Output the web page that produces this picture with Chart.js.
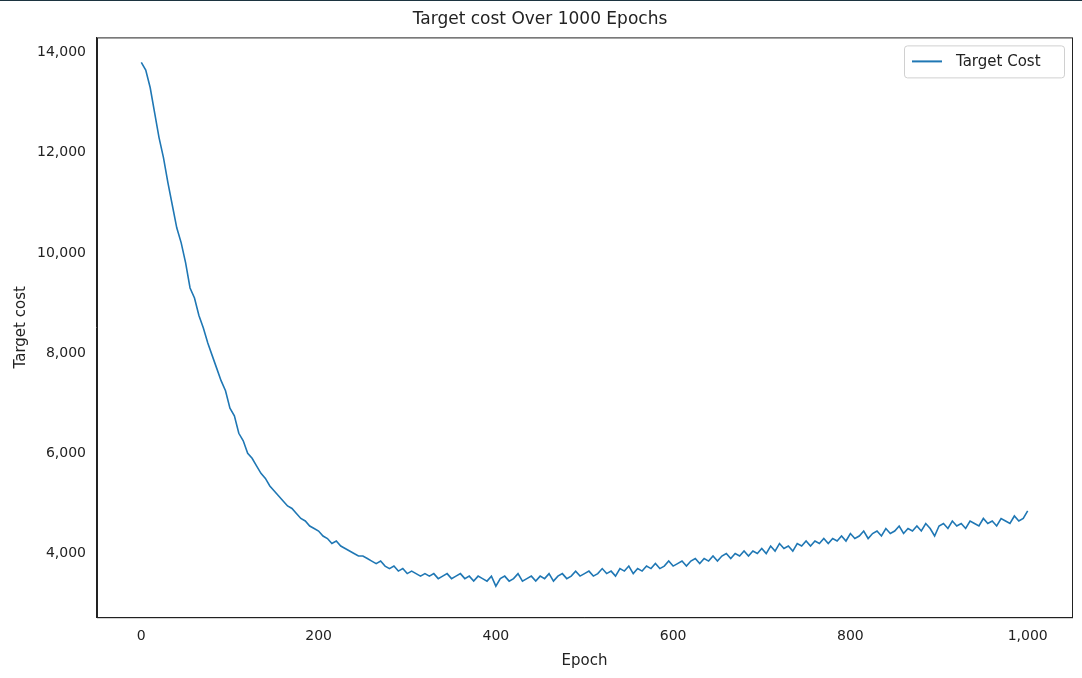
<!DOCTYPE html>
<html><head><meta charset="utf-8">
<script src="https://cdn.jsdelivr.net/npm/chart.js@4/dist/chart.umd.min.js"></script>
<style>html,body{margin:0;padding:0;background:#fff;}#wrap{width:1082px;height:678px;border-top:1px solid #1c3440;box-sizing:border-box;}</style>
</head><body><div id="wrap"><canvas id="c" width="1082" height="677"></canvas></div>
<script>
const epochs = [];
for (let e = 0; e <= 1000; e += 5) epochs.push(e);
const cost = [13800,13650,13300,12800,12300,11900,11400,10950,10500,10200,9800,9300,9100,8750,8500,8200,7950,7700,7450,7250,6900,6750,6400,6250,6000,5900,5750,5600,5500,5350,5250,5150,5050,4950,4900,4800,4700,4650,4550,4500,4450,4350,4300,4200,4250,4150,4100,4050,4000,3950,3950,3900,3850,3800,3850,3750,3700,3750,3650,3700,3600,3650,3600,3550,3600,3550,3600,3500,3550,3600,3500,3550,3600,3500,3550,3450,3550,3500,3450,3550,3350,3500,3550,3450,3500,3600,3450,3500,3550,3450,3550,3500,3600,3450,3550,3600,3500,3550,3650,3550,3600,3650,3550,3600,3700,3600,3650,3550,3700,3650,3750,3600,3700,3650,3750,3700,3800,3700,3750,3850,3750,3800,3850,3750,3850,3900,3800,3900,3850,3950,3850,3950,4000,3900,4000,3950,4050,3950,4050,4000,4100,4000,4150,4050,4200,4100,4150,4050,4200,4150,4250,4150,4250,4200,4300,4200,4300,4250,4350,4250,4400,4300,4350,4450,4300,4400,4450,4350,4500,4400,4450,4550,4400,4500,4450,4550,4450,4600,4500,4350,4550,4600,4500,4650,4550,4600,4500,4650,4600,4550,4700,4600,4650,4550,4700,4650,4600,4750,4650,4700,4850];
const xTicks = [0,200,400,600,800,1000];
const yTicks = [4000,6000,8000,10000,12000,14000];
const F = 'DejaVu Sans';
const legendPlugin = {id:'lg', afterDraw(ch){
  const c=ch.ctx, a=ch.chartArea;
  const w=160,h=32,x=a.right-w-8,y=a.top+8;
  c.save();c.fillStyle='rgba(255,255,255,0.8)';c.strokeStyle='#d0d0d0';c.lineWidth=1;
  c.beginPath();c.roundRect(x+0.5,y+0.5,w,h,3);c.fill();c.stroke();
  c.strokeStyle='#1f77b4';c.lineWidth=2;c.beginPath();c.moveTo(x+8,y+h/2);c.lineTo(x+38,y+h/2);c.stroke();
  c.fillStyle='#222';c.font='15px '+F;c.textBaseline='middle';c.fillText('Target Cost',x+52,y+h/2+1);
  c.restore();
}};
const boxPlugin = {id:'box', afterDraw(ch){
  const c=ch.ctx,a=ch.chartArea;c.save();c.strokeStyle='#222';c.lineWidth=1;
  c.strokeRect(a.left+0.5,a.top+0.5,a.width,a.height);c.restore();
}};
new Chart(document.getElementById('c'),{
  type:'line',
  data:{datasets:[{data:epochs.map((e,i)=>({x:e,y:cost[i]})),borderColor:'#1f77b4',borderWidth:1.6,pointRadius:0,tension:0}]},
  options:{responsive:false,animation:false,
    layout:{padding:{left:8,right:10,top:0,bottom:4}},
    plugins:{legend:{display:false},tooltip:{enabled:false},
      title:{display:true,text:'Target cost Over 1000 Epochs',color:'#222',font:{family:F,size:17,weight:'normal'},padding:{top:8,bottom:8}}},
    scales:{
      x:{type:'linear',min:-50,max:1050,grid:{display:false},border:{color:'#222'},
        afterBuildTicks(s){s.ticks=xTicks.map(v=>({value:v}));},
        ticks:{color:'#222',font:{family:F,size:14}},
        title:{display:true,text:'Epoch',color:'#222',font:{family:F,size:15}}},
      y:{min:2730,max:14300,grid:{display:false},border:{color:'#222'},
        afterBuildTicks(s){s.ticks=yTicks.map(v=>({value:v}));},
        ticks:{color:'#222',font:{family:F,size:14}},
        title:{display:true,text:'Target cost',color:'#222',font:{family:F,size:15}}}
    }},
  plugins:[legendPlugin,boxPlugin]
});
</script>
</body></html>
